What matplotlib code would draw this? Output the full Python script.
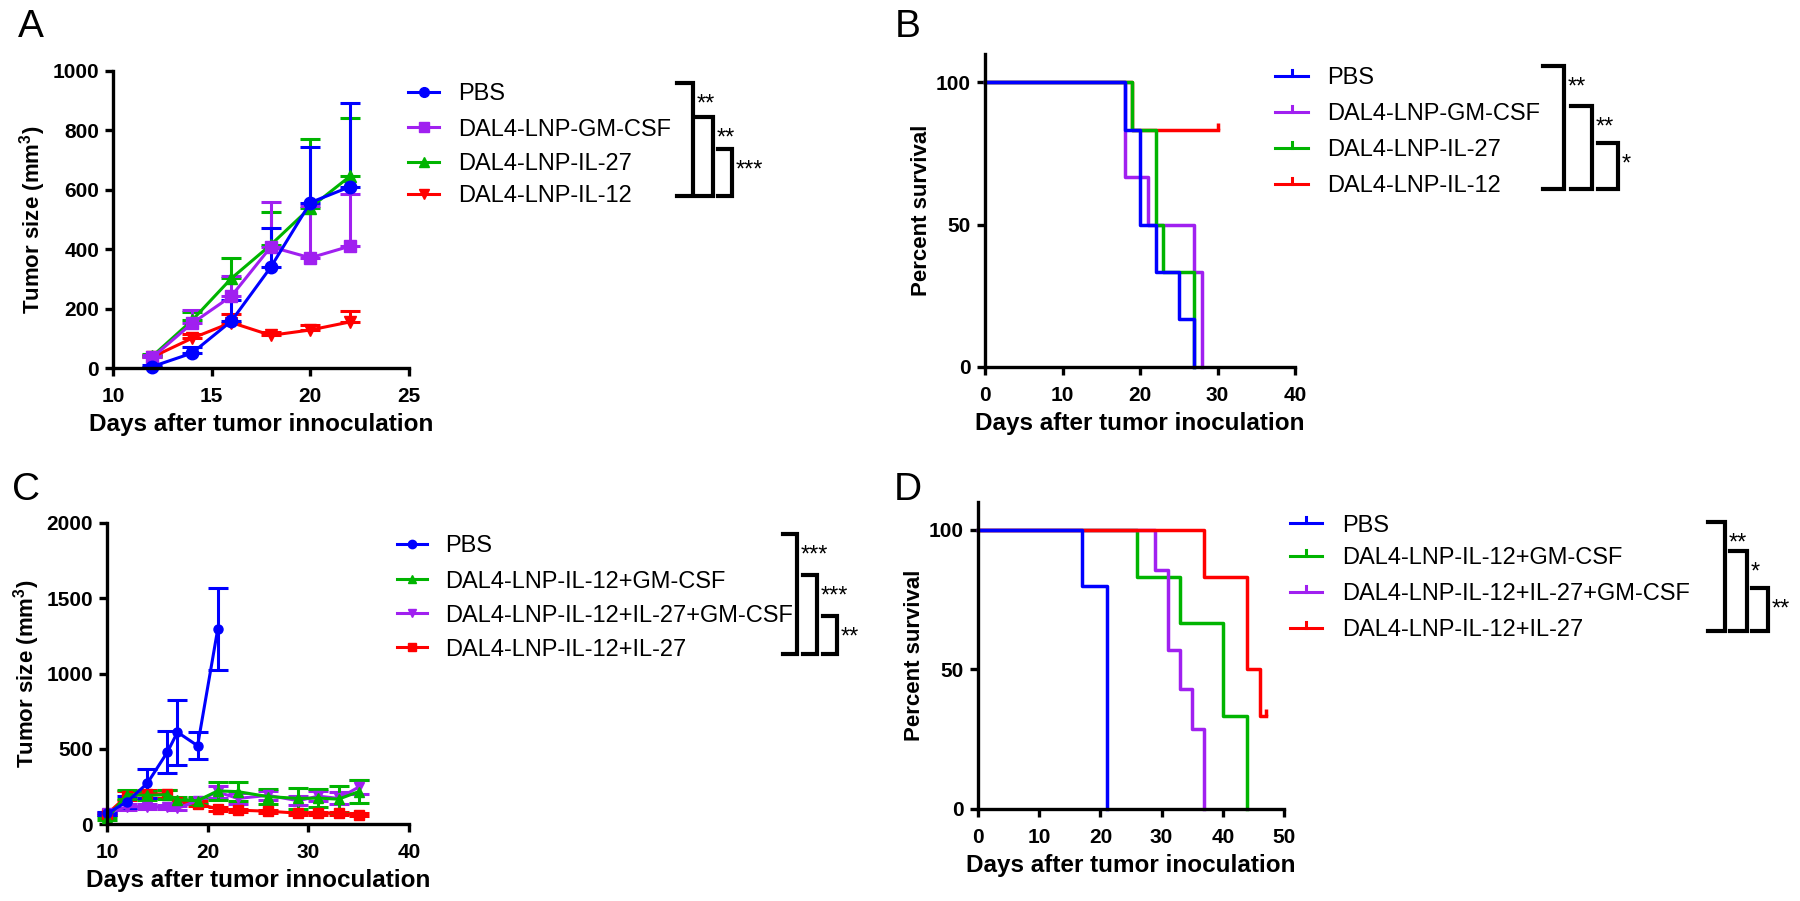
import matplotlib.pyplot as plt

plt.rcParams['font.family'] = ['Liberation Sans', 'DejaVu Sans']
plt.rcParams['mathtext.fontset'] = 'custom'
plt.rcParams['mathtext.rm'] = 'Liberation Sans:bold'
plt.rcParams['mathtext.default'] = 'rm'

BLUE = '#0000FF'
PURPLE = '#A020F0'
GREEN = '#00B400'
RED = '#FF0000'

# ---- panel A: tumor growth ----
days_a = [12, 14, 16, 18, 20, 22]
a_pbs = [5, 50, 158, 340, 557, 610]
a_pbs_err = [4, 22, 70, 130, 188, 282]
a_gm = [36, 150, 242, 408, 371, 410]
a_gm_err = [8, 45, 68, 150, 175, 175]
a_il27 = [40, 160, 302, 415, 540, 645]
a_il27_err = [8, 30, 67, 110, 230, 196]
a_il12 = [37, 100, 153, 110, 128, 155]
a_il12_err = [6, 15, 30, 10, 18, 38]
labels_a = ['PBS', 'DAL4-LNP-GM-CSF', 'DAL4-LNP-IL-27', 'DAL4-LNP-IL-12']

# ---- panel B: survival ----
b_pbs_t = [0, 18, 20, 22, 25, 27]
b_pbs_s = [100, 83.3, 50, 33.3, 16.7, 0]
b_gm_t = [0, 18, 21, 27, 28]
b_gm_s = [100, 66.7, 50, 33.3, 0]
b_il27_t = [0, 19, 22, 23, 27]
b_il27_s = [100, 83.3, 50, 33.3, 0]
b_il12_t = [0, 19, 30]
b_il12_s = [100, 83.3, 83.3]

# ---- panel C: combination tumor growth ----
days_c_pbs = [10, 12, 14, 16, 17, 19, 21]
c_pbs = [70, 148, 270, 478, 610, 520, 1295]
c_pbs_err = [10, 40, 95, 140, 215, 90, 272]
days_c = [10, 12, 14, 16, 17, 19, 21, 23, 26, 29, 31, 33, 35]
c_gm = [38, 195, 190, 195, 160, 155, 220, 215, 182, 170, 172, 165, 215]
c_gm_err = [10, 30, 30, 30, 20, 25, 60, 62, 50, 68, 60, 90, 75]
c_tri = [70, 115, 115, 112, 105, 155, 212, 170, 190, 155, 185, 170, 245]
c_tri_err = [10, 20, 15, 15, 15, 20, 40, 35, 30, 30, 35, 40, 45]
c_il27 = [65, 188, 200, 200, 148, 135, 100, 92, 85, 72, 72, 72, 60]
c_il27_err = [8, 30, 25, 25, 15, 15, 12, 10, 10, 10, 10, 10, 10]
labels_c = ['PBS', 'DAL4-LNP-IL-12+GM-CSF', 'DAL4-LNP-IL-12+IL-27+GM-CSF', 'DAL4-LNP-IL-12+IL-27']

# ---- panel D: combination survival ----
d_pbs_t = [0, 17, 21]
d_pbs_s = [100, 80, 0]
d_gm_t = [0, 26, 33, 40, 44]
d_gm_s = [100, 83.3, 66.7, 33.3, 0]
d_tri_t = [0, 29, 31, 33, 35, 37]
d_tri_s = [100, 85.7, 57.1, 42.9, 28.6, 0]
d_il27_t = [0, 37, 44, 46, 47]
d_il27_s = [100, 83.3, 50, 33.3, 33.3]

W, H = 1800, 901
fig = plt.figure(figsize=(W / 100, H / 100), dpi=100)


def px_axes(l, t, r, b):
    return fig.add_axes([l / W, 1 - b / H, (r - l) / W, (b - t) / H])


def style(ax, xlabel, ylabel):
    for s in ['top', 'right']:
        ax.spines[s].set_visible(False)
    for s in ['left', 'bottom']:
        ax.spines[s].set_linewidth(2.4)
    ax.tick_params(width=2.4, length=6, labelsize=15)
    ax.tick_params(axis='x', pad=8)
    ax.tick_params(axis='y', pad=4)
    for lab in ax.get_xticklabels() + ax.get_yticklabels():
        lab.set_fontweight('bold')
    ax.set_xlabel(xlabel, fontsize=17.5, fontweight='bold', labelpad=5)
    ax.set_ylabel(ylabel, fontsize=16, fontweight='bold', labelpad=3)


def growth(ax, x, y, err, color, marker, ms, upper_only):
    yerr = [[0] * len(err), err] if upper_only else err
    ax.errorbar(x, y, yerr=yerr, color=color, marker=marker, ms=ms, lw=2.2,
                elinewidth=2.2, capsize=7, capthick=2.2, clip_on=False)


def survival(ax, t, s, color, censor=False):
    ax.step(t, s, where='post', color=color, lw=2.5, clip_on=False)
    if censor:
        ax.plot(t[-1], s[-1], marker=2, ms=5, mew=2.5, color=color, clip_on=False)


# panel A
ax_a = px_axes(113, 71, 409, 368)
growth(ax_a, days_a, a_il12, a_il12_err, RED, 'v', 9, True)
growth(ax_a, days_a, a_il27, a_il27_err, GREEN, '^', 9, True)
growth(ax_a, days_a, a_gm, a_gm_err, PURPLE, 's', 8.5, True)
growth(ax_a, days_a, a_pbs, a_pbs_err, BLUE, 'o', 9, True)
ax_a.set_xlim(10, 25)
ax_a.set_ylim(0, 1000)
ax_a.set_xticks([10, 15, 20, 25])
ax_a.set_yticks([0, 200, 400, 600, 800, 1000])
style(ax_a, 'Days after tumor innoculation', 'Tumor size (mm$^3$)')

# panel B
ax_b = px_axes(985, 54, 1295, 367)
survival(ax_b, b_il12_t, b_il12_s, RED, censor=True)
survival(ax_b, b_gm_t, b_gm_s, PURPLE)
survival(ax_b, b_il27_t, b_il27_s, GREEN)
survival(ax_b, b_pbs_t, b_pbs_s, BLUE)
ax_b.set_xlim(0, 40)
ax_b.set_ylim(0, 110)
ax_b.set_xticks([0, 10, 20, 30, 40])
ax_b.set_yticks([0, 50, 100])
style(ax_b, 'Days after tumor inoculation', 'Percent survival')

# panel C
ax_c = px_axes(107, 523, 409, 824)
growth(ax_c, days_c, c_il27, c_il27_err, RED, 's', 6.5, False)
growth(ax_c, days_c, c_tri, c_tri_err, PURPLE, 'v', 6.5, False)
growth(ax_c, days_c, c_gm, c_gm_err, GREEN, '^', 6.5, False)
growth(ax_c, days_c_pbs, c_pbs, c_pbs_err, BLUE, 'o', 6.5, False)
ax_c.set_xlim(10, 40)
ax_c.set_ylim(0, 2000)
ax_c.set_xticks([10, 20, 30, 40])
ax_c.set_yticks([0, 500, 1000, 1500, 2000])
style(ax_c, 'Days after tumor innoculation', 'Tumor size (mm$^3$)')

# panel D
ax_d = px_axes(978, 502, 1284, 809)
survival(ax_d, d_gm_t, d_gm_s, GREEN)
survival(ax_d, d_tri_t, d_tri_s, PURPLE)
survival(ax_d, d_il27_t, d_il27_s, RED, censor=True)
survival(ax_d, d_pbs_t, d_pbs_s, BLUE)
ax_d.set_xlim(0, 50)
ax_d.set_ylim(0, 110)
ax_d.set_xticks([0, 10, 20, 30, 40, 50])
ax_d.set_yticks([0, 50, 100])
style(ax_d, 'Days after tumor inoculation', 'Percent survival')

# overlay in pixel units for panel letters, legends and significance brackets
ov = fig.add_axes([0, 0, 1, 1])
ov.set_xlim(0, W)
ov.set_ylim(H, 0)
ov.axis('off')
ov.patch.set_visible(False)

for letter, x, y in [('A', 18, 37), ('B', 895, 37), ('C', 12, 500), ('D', 894, 500)]:
    ov.text(x, y, letter, fontsize=28, va='baseline', ha='left')


def legend(x0, x1, xt, ys, labels, colors, markers, ms, tick=False):
    for y, lab, c, m in zip(ys, labels, colors, markers):
        ov.plot([x0, x1], [y, y], color=c, lw=2.2)
        if tick:
            ov.plot([(x0 + x1) / 2] * 2, [y, y - 6], color=c, lw=2.2)
        else:
            ov.plot((x0 + x1) / 2, y, marker=m, ms=ms, color=c)
        ov.text(xt, y + 8.5, lab, fontsize=17, va='baseline', ha='left')


def brackets(items, bottom):
    for xl, xr, top, lab in items:
        ov.plot([xl, xr, xr, xl], [top, top, bottom, bottom], color='black', lw=3,
                solid_joinstyle='miter')
        ov.text(xr + 4, top + 28, lab, fontsize=17, va='baseline', ha='left')


legend(408, 439, 458, [92, 127, 162, 194], labels_a, [BLUE, PURPLE, GREEN, RED],
       ['o', 's', '^', 'v'], 7)
brackets([(677, 693, 83, '**'), (697, 713, 117, '**'), (718, 732, 149, '***')], 196)

legend(1275, 1308, 1327, [76, 112, 148, 184], labels_a, [BLUE, PURPLE, GREEN, RED],
       [None] * 4, 0, tick=True)
brackets([(1543, 1564, 66, '**'), (1571, 1592, 106, '**'), (1598, 1618, 143, '*')], 189)

legend(397, 427, 445, [544, 579, 613, 647], labels_c, [BLUE, GREEN, PURPLE, RED],
       ['o', '^', 'v', 's'], 6)
brackets([(783, 797, 534, '***'), (803, 817, 575, '***'), (823, 837, 616, '**')], 654)

legend(1290, 1322, 1342, [523, 556, 592, 628], labels_c, [BLUE, GREEN, PURPLE, RED],
       [None] * 4, 0, tick=True)
brackets([(1708, 1725, 522, '**'), (1730, 1747, 551, '*'), (1752, 1768, 588, '**')], 631)

fig.savefig('out.png', dpi=100)
